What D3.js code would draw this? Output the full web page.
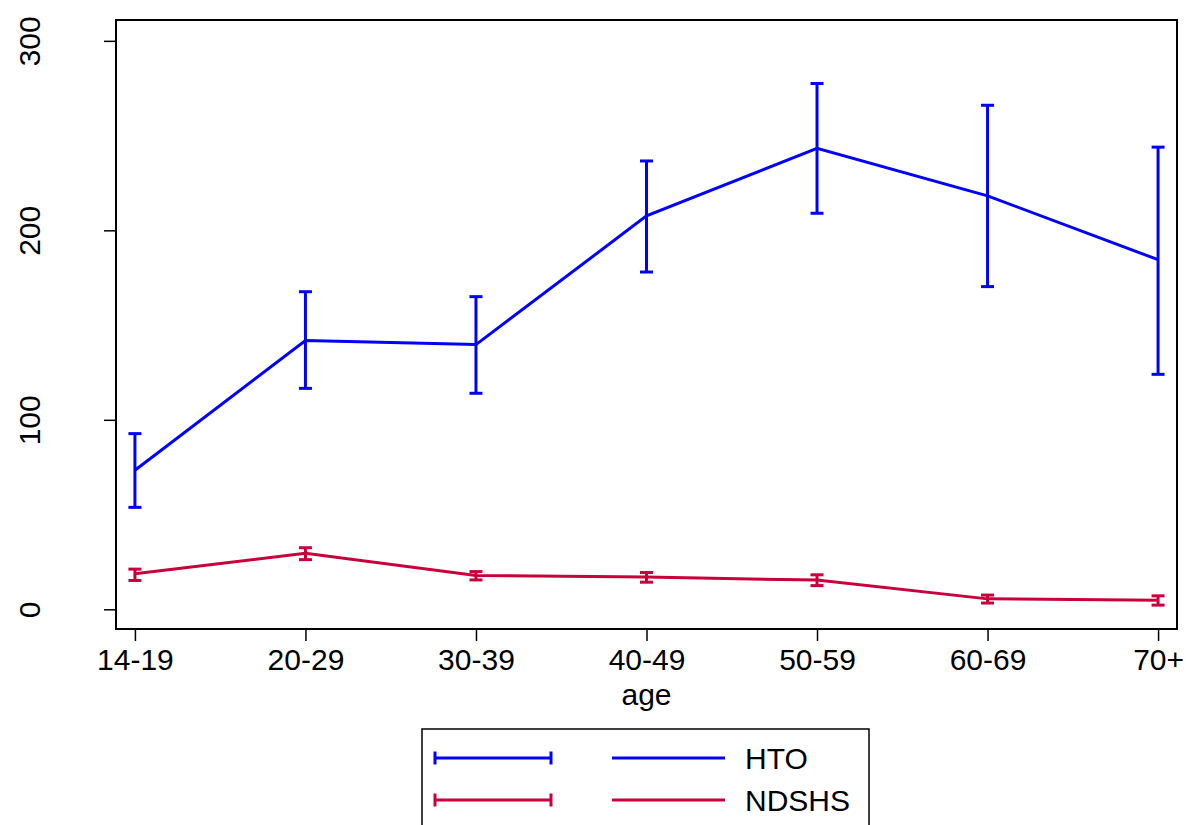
<!DOCTYPE html>
<html>
<head>
<meta charset="utf-8">
<script src="https://cdn.jsdelivr.net/npm/d3@7"></script>
<style>
  body { margin: 0; background: #fff; }
  svg { display: block; font-family: "Liberation Sans", Arial, sans-serif; }
</style>
</head>
<body>
<svg id="chart" width="1186" height="825"></svg>
<script>
// age groups
const categories = ['14-19', '20-29', '30-39', '40-49', '50-59', '60-69', '70+'];
const yTicks = [0, 100, 200, 300];

// HTO: mean with lower / upper bounds
const htoMean = [73.4, 141.8, 139.7, 207.6, 243.3, 218.2, 184.5];
const htoLow = [53.8, 116.6, 114.0, 178.0, 209.0, 170.3, 124.0];
const htoHigh = [92.7, 167.6, 165.0, 236.6, 277.5, 266.0, 243.9];

// NDSHS
const ndMean = [18.7, 29.6, 17.8, 17.0, 15.4, 5.5, 4.8];
const ndLow = [15.2, 26.2, 15.5, 14.3, 12.5, 3.3, 2.2];
const ndHigh = [21.2, 32.5, 19.9, 19.4, 18.2, 7.5, 7.1];

const series = [
    { name: 'HTO', color: '#0000ff', mean: htoMean, low: htoLow, high: htoHigh },
    { name: 'NDSHS', color: '#c8003c', mean: ndMean, low: ndLow, high: ndHigh }
];

const margin = { top: 20, right: 9, bottom: 196, left: 116 };
const width = 1186, height = 825;

const svg = d3.select('#chart');

const x = d3.scaleLinear()
    .domain([-0.111, categories.length - 1 + 0.111])
    .range([margin.left, width - margin.right]);
const y = d3.scaleLinear()
    .domain([-10.4, 311])
    .range([height - margin.bottom, margin.top]);

// axes
const xAxis = d3.axisBottom(x)
    .tickValues(d3.range(categories.length))
    .tickFormat(i => categories[i])
    .tickSize(12)
    .tickPadding(8);
const gx = svg.append('g')
    .attr('transform', `translate(0,${height - margin.bottom})`)
    .call(xAxis);
gx.select('.domain').remove();
gx.selectAll('line').attr('stroke', '#000').attr('stroke-width', 1.5);
gx.selectAll('text').attr('font-size', 30).attr('fill', '#000').attr('dy', '0.7em');

const yAxis = d3.axisLeft(y).tickValues(yTicks).tickSize(12);
const gy = svg.append('g')
    .attr('transform', `translate(${margin.left},0)`)
    .call(yAxis);
gy.select('.domain').remove();
gy.selectAll('line').attr('stroke', '#000').attr('stroke-width', 1.5);
gy.selectAll('text')
    .attr('font-size', 30)
    .attr('fill', '#000')
    .attr('text-anchor', 'middle')
    .attr('x', 0)
    .attr('y', 0)
    .attr('dy', 0)
    .attr('transform', 'translate(-76,0) rotate(-90)');

// frame
svg.append('rect')
    .attr('x', margin.left)
    .attr('y', margin.top)
    .attr('width', width - margin.right - margin.left)
    .attr('height', height - margin.bottom - margin.top)
    .attr('fill', 'none')
    .attr('stroke', '#000')
    .attr('stroke-width', 2);

svg.append('text')
    .attr('x', x(3))
    .attr('y', 705)
    .attr('text-anchor', 'middle')
    .attr('font-size', 30)
    .text('age');

// series
const line = d3.line().x((d, i) => x(i)).y(d => y(d));
const capW = 6.5;

series.forEach(s => {
    const g = svg.append('g');
    g.append('path')
        .datum(s.mean)
        .attr('d', line)
        .attr('fill', 'none')
        .attr('stroke', s.color)
        .attr('stroke-width', 3);

    const bars = g.selectAll('g.bar')
        .data(s.mean.map((m, i) => ({ i, lo: s.low[i], hi: s.high[i] })))
        .join('g')
        .attr('class', 'bar')
        .attr('stroke', s.color)
        .attr('stroke-width', 3);
    bars.append('line')
        .attr('x1', d => x(d.i)).attr('x2', d => x(d.i))
        .attr('y1', d => y(d.lo)).attr('y2', d => y(d.hi));
    bars.append('line')
        .attr('x1', d => x(d.i) - capW).attr('x2', d => x(d.i) + capW)
        .attr('y1', d => y(d.lo)).attr('y2', d => y(d.lo));
    bars.append('line')
        .attr('x1', d => x(d.i) - capW).attr('x2', d => x(d.i) + capW)
        .attr('y1', d => y(d.hi)).attr('y2', d => y(d.hi));
});

// legend
const legend = svg.append('g');
legend.append('rect')
    .attr('x', 422).attr('y', 729)
    .attr('width', 447).attr('height', 120)
    .attr('fill', 'none')
    .attr('stroke', '#000')
    .attr('stroke-width', 1.5);

series.forEach((s, k) => {
    const ly = 758 + k * 42;
    const row = legend.append('g').attr('stroke', s.color).attr('stroke-width', 3);
    row.append('line').attr('x1', 435).attr('x2', 551).attr('y1', ly).attr('y2', ly);
    row.append('line').attr('x1', 435).attr('x2', 435).attr('y1', ly - 6.5).attr('y2', ly + 6.5);
    row.append('line').attr('x1', 551).attr('x2', 551).attr('y1', ly - 6.5).attr('y2', ly + 6.5);
    row.append('line').attr('x1', 612).attr('x2', 725).attr('y1', ly).attr('y2', ly);
    legend.append('text')
        .attr('x', 745)
        .attr('y', ly + 11)
        .attr('font-size', 30)
        .text(s.name);
});
</script>
</body>
</html>
